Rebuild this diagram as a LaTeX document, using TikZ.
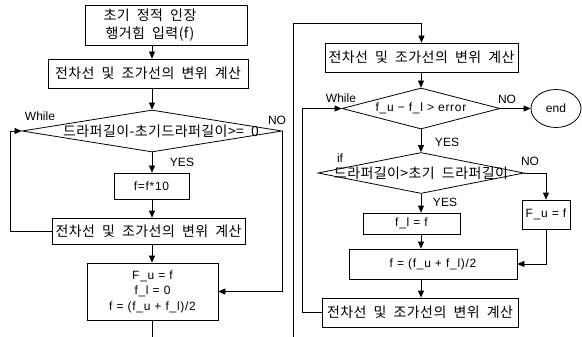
\documentclass[tikz,border=0pt]{standalone}
\usepackage{fontspec}
\setmainfont{Liberation Sans}
\newfontfamily\kr{Noto Sans CJK KR}[LetterSpace=3,WordSpace=2]
\newfontfamily\lsp{Liberation Sans}[LetterSpace=6]
\usetikzlibrary{shapes.geometric,arrows.meta}
\begin{document}
\begin{tikzpicture}[x=1pt,y=-1pt,line width=0.8pt,
  krf/.style={font=\kr\fontsize{14}{19}\selectfont},
  laf/.style={font=\fontsize{12}{15}\selectfont},
  lsf/.style={font=\lsp\fontsize{12}{15.5}\selectfont},
  box/.style={draw,rectangle,inner sep=0pt,krf},
  lbox/.style={draw,rectangle,inner sep=0pt,lsf},
  dia/.style={draw,diamond,inner sep=0pt},
  lab/.style={inner sep=0pt,laf},
  ktxt/.style={inner sep=0pt,krf},
  arr/.style={-{Triangle[length=7pt,width=6pt]}}]
\useasboundingbox (0,0) rectangle (582,337);
% left column
\node[box,minimum width=162pt,minimum height=40pt] (b1) at (166,25) {};
\node[ktxt,align=center,font=\kr\fontsize{14}{18}\selectfont] (b1t) at (150,25) {초기 정적 인장\\행거힘 입력(f)};
\node[box,minimum width=200pt,minimum height=29pt] (b2) at (148,73.5) {전차선 및 조가선의 변위 계산};
\node[dia,minimum width=260pt,minimum height=42pt] (d1) at (152,131) {};
\node[ktxt] (d1t) at (161,131) {드라퍼길이-초기드라퍼길이>= 0};
\node[lbox,minimum width=75pt,minimum height=26pt] (b3) at (151.5,186) {f=f*10};
\node[box,minimum width=193pt,minimum height=26pt] (b4) at (148.5,231) {전차선 및 조가선의 변위 계산};
\node[lbox,minimum width=131pt,minimum height=57pt,align=center] (b5) at (152.5,291.5) {F\_u = f\\f\_l = 0\\f = (f\_u + f\_l)/2};
\node[lab] (w1) at (40,116) {While};
\node[lab] (n1) at (277,120) {NO};
\node[lab] (y1) at (182,162) {YES};
\coordinate (ll) at (10,0);
\coordinate (bb) at (152.5,337);
\coordinate (lb) at (293,337);
\coordinate (lt) at (293,23.5);
\draw[arr] (b1.south -| d1.north) -- (b2.north -| d1.north);
\draw[arr] (b2.south -| d1.north) -- (d1.north);
\draw[arr] (d1.south) -- (b3.north -| d1.south);
\draw[arr] (b3.south -| d1.south) -- (b4.north -| d1.south);
\draw[arr] (b4.south -| d1.south) -- (b5.north -| d1.south);
\draw[arr] (b4.west) -- (b4.west -| ll) |- (d1.west);
\draw[arr] (d1.east) |- (b5.east);
\draw (b5.south) -- (bb);
% right column
\node[box,minimum width=193pt,minimum height=29pt] (r1) at (421.5,57.5) {전차선 및 조가선의 변위 계산};
\node[dia,minimum width=158pt,minimum height=41pt] (d2) at (421,108.5) {};
\node[inner sep=0pt,lsf] (d2t) at (421,108.5) {f\_u − f\_l > error};
\node[draw,ellipse,inner sep=0pt,minimum width=50pt,minimum height=38pt,laf] (end) at (556,108.5) {end};
\node[dia,minimum width=206pt,minimum height=41pt] (d3) at (421,173) {};
\node[ktxt] (d3t) at (421,173) {드라퍼길이>초기 드라퍼길이};
\node[lbox,minimum width=97pt,minimum height=21pt] (fl) at (411.5,223.5) {f\_l = f};
\node[lbox,minimum width=48pt,minimum height=29pt] (fu) at (546,214.5) {F\_u = f};
\node[lbox,minimum width=168pt,minimum height=30pt] (mid) at (433,264) {f = (f\_u + f\_l)/2};
\node[box,minimum width=196pt,minimum height=29pt] (last) at (420,312.5) {전차선 및 조가선의 변위 계산};
\node[lab] (w2) at (341,98) {While};
\node[lab] (n2) at (507,99) {NO};
\node[lab] (y2) at (447,142) {YES};
\node[lab] (if3) at (340,158) {if};
\node[lab] (n3) at (530,161) {NO};
\node[lab] (y3) at (445,202) {YES};
\coordinate (rl) at (302,0);
\draw[arr] (lb) -- (lt) -| (r1.north);
\draw[arr] (r1.south -| d2.north) -- (d2.north);
\draw[arr] (d2.east) -- (end.west);
\draw[arr] (d2.south) -- (d3.north);
\draw[arr] (d3.south) -- (d3.south |- fl.north);
\draw[arr] (d3.east) -| (fu.north);
\draw[arr] (fu.south) |- (mid.east);
\draw[arr] (fl.south -| d3.south) -- (mid.north -| d3.south);
\draw[arr] (mid.south -| d3.south) -- (last.north -| d3.south);
\draw[arr] (last.west) -- (last.west -| rl) |- (d2.west);
\end{tikzpicture}
\end{document}
